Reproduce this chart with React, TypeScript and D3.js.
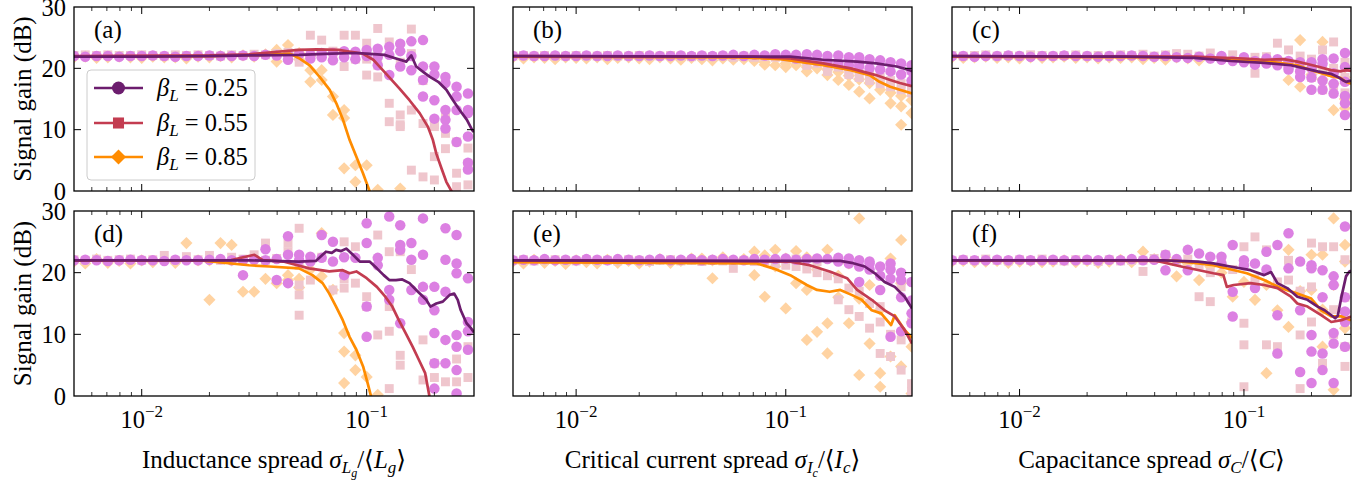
import * as d3 from 'd3';

// sample positions of the spread (sigma / mean), shared by all panels
const grid = [
  0.005, 0.00561, 0.0063, 0.00707, 0.00794, 0.00891, 0.01, 0.0112, 0.0126, 0.0141,
  0.0158, 0.0178, 0.02, 0.0224, 0.0251, 0.0282, 0.0316, 0.0355, 0.0398, 0.0447,
  0.0501, 0.0562, 0.0631, 0.0708, 0.0794, 0.0891, 0.1, 0.112, 0.126, 0.141,
  0.158, 0.178, 0.2, 0.224, 0.251, 0.282, 0.316, 0.355, 0.398,
];

const betaLabels = ['0.25', '0.55', '0.85'];
const yTicks = [0, 10, 20, 30];
const xMajor = [0.01, 0.1];
const xMinor = [0.006, 0.007, 0.008, 0.009, 0.02, 0.03, 0.04, 0.05, 0.06, 0.07, 0.08, 0.09, 0.2, 0.3, 0.4];

// ---- (a) inductance ----
const a025 = [[22],[21.9],[22],[22],[21.9],[22],[22],[22.1],[22],[21.9],[22],[22],[22.1],[22],[22],[22.1],[22],[22.2],[22.1],[21.4,22.2],[22.3],[22.2,21.6],[22.5,21.8],[21.3,22.5],[21.8,22.8],[22.7,21.5],[23,22],[23.2,21.8,20.5],[23.5,22.2,18.9],[24,20.3,22.8],[24.4,19.7,22],[24.6,18.1,15.4,20.3],[20.3,14.8,11.8,19],[18.6,17.6,11.6,10.2,13.2],[15.4,13.2,8,17],[15.9,12.7,8.9,4.6,3.5,13.2]];
const a055 = [[22.1],[22.2],[22.1],[22.2],[22.1],[22.1],[22.2],[22.1],[22],[22.2],[22.1],[22.2],[22.1],[22],[22.2],[22.1],[22.3],[22.2],[22.4],[22.6],[22.5,21],[25.4,22.3],[24.6,22],[22.8,21.5],[20.3,25.4,22.5],[25.4,21.5],[24.1,18.9,21.5],[26.5,22.5,20.5,18.6],[24.3,14.3,11.3],[10.5,12.4,21,10.8],[26.4,22.4,13.2,3.4],[11,2.3,18],[10.8,10.5,5.6,1.8],[9.4,6.9,12],[8,2.9,0.7],[4.5,1,7]];
const a085 = [[21.8],[21.9],[21.7],[21.8],[21.9],[21.8],[21.7],[21.9],[21.8],[21.8],[21.6],[21.9],[21.8],[22],[21.8],[22.1],[21.9],[22.3],[21.1,23],[23.8,22.4],[22.5,21.5],[17.8,19.7,22],[19.7,18.1],[15.4,12.4],[13.2,11.9,3.7],[1.5,4.2],[4.2],[0.2],[],[0.4]];
const aLine025 = [[0.005,21.9],[0.01,21.9],[0.02,22],[0.03,22.1],[0.05,22.2],[0.07,22.4],[0.09,22.5],[0.1,22.4],[0.12,22.2],[0.135,21.6],[0.15,21.1],[0.158,22.1],[0.166,20.3],[0.18,19.3],[0.191,18.6],[0.208,17.8],[0.226,16.5],[0.242,14.8],[0.259,13.2],[0.279,11.6],[0.295,9.9],[0.3,9.6]];
const aLine055 = [[0.005,22],[0.02,22.1],[0.03,22.3],[0.04,22.7],[0.05,23],[0.06,23.1],[0.075,23],[0.085,22.7],[0.096,22.4],[0.107,21.4],[0.116,20],[0.127,18.4],[0.14,16.7],[0.155,14.8],[0.172,12.7],[0.187,10.5],[0.197,8.3],[0.204,6.1],[0.215,3.7],[0.226,1.5],[0.238,0],[0.245,-1]];
const aLine085 = [[0.005,21.9],[0.02,22],[0.035,22.2],[0.0455,22.4],[0.0504,21.6],[0.0558,20.5],[0.0618,18.6],[0.0685,16.5],[0.0733,14.3],[0.0785,11.6],[0.084,8.3],[0.09,5.6],[0.0963,2.9],[0.103,0],[0.106,-1]];

// ---- (b) critical current ----
const b025 = [[22],[22.1],[22],[22],[22.1],[22],[22],[22.1],[22],[22],[22.1],[22],[22],[22.1],[22],[22],[22.1],[22],[22.1],[22],[22.1],[22.2],[22],[22.2],[22.1],[22.3],[22.2],[22.2,21.6],[22.3,21.5],[22.2,21.2],[22,21],[22.1,20.8],[21.8,20.5],[21.8,20.4,21],[21.5,20],[21.3,19.8],[21,19.5],[20.8,19],[20.5,18,19.5]];
const b055 = [[22],[22.1],[22],[22.1],[22],[22],[22.1],[22],[22],[22.1],[22],[22],[22.1],[22],[22],[22.1],[22],[21.9],[22],[21.9],[22],[21.8],[22],[21.8],[21.9],[21.8],[21.8],[21.5],[21.2,20.5],[20.8],[20.8,19.5],[20.2],[19.8,19],[19.5,18.5],[19,18],[18.5,17.5],[18,17],[17.5,16.5],[17,16]];
const b085 = [[21.8],[21.6],[21.8],[21.7],[21.5],[21.8],[21.7],[21.6],[21.8],[21.5],[21.7],[21.8],[21.6],[21.5],[21.8],[21.6],[21.4],[21.7],[21.5],[21.3],[21.6],[21.4],[21.5],[21.2],[21,20.6],[20.5],[20.8,20.2],[20.5],[20.2,19.5],[20],[18.9,19.8],[18.1,19.4],[17.3,18.8],[16.2,18.2],[15.1,17.6],[16.5],[14.3,16],[13.8,10.8,15.5],[12.7,14.8]];
const bLine025 = [[0.005,22],[0.105,21.9],[0.151,21.4],[0.219,21.1],[0.27,20.8],[0.338,20.3],[0.39,19.7],[0.4,19.5]];
const bLine055 = [[0.005,22],[0.07,21.9],[0.105,21.6],[0.151,20.8],[0.204,20],[0.269,18.9],[0.315,18.1],[0.35,17.6],[0.4,17.1]];
const bLine085 = [[0.005,21.9],[0.06,21.8],[0.094,21.5],[0.151,20.5],[0.204,19.7],[0.251,18.9],[0.28,17.8],[0.315,17],[0.35,16.5],[0.4,15.9]];

// ---- (c) capacitance ----
const c025 = [[22],[22],[21.9],[22],[22],[22.1],[22],[21.9],[22],[22],[22.1],[22],[22],[21.9],[22],[22],[22.1],[22],[21.9],[22],[21.8],[21.7],[21.9],[21.6],[21.4,22],[21.2],[21,21.8],[21.2,20.6],[20.8,21.6],[20.5,21.5],[20.3,21.2,19.8],[19.5,21,18.6],[18.5,21,16.5,20],[16.5,20.8,18,21.5],[15.9,21.6,17.5,19.2],[12.4,14.3,22.5,20.2,17.8,15.5]];
const c055 = [[22.1],[22],[22.1],[22.2],[22],[22.1],[22],[22.2],[22.1],[22],[22.1],[22.2],[22],[22.1],[22],[22.2],[22.1],[22.3],[22],[22.2],[22.4],[22.3],[22],[22.5],[21.6],[22.2],[21.5],[19.2,21.8],[21.9],[24.1,21.2],[21,23],[20.4,22],[21.5,18.5],[19.8,16.5,23],[24.3,17.2,20],[16,21,18.5]];
const c085 = [[21.8],[21.7],[21.8],[21.9],[21.7],[21.8],[21.6],[21.8],[21.7],[21.8],[21.9],[21.7],[21.8],[21.6],[21.8],[21.7],[21.8],[21.5],[21.7],[21.4],[21.8],[21.6],[21.3],[21.7],[21.5],[21.4],[21.2],[20.8],[21.5],[20.8],[18.1,21],[24.6,17,20.5],[20,19],[24.3,18.2],[13.2,17.5,19.5],[15,18.5,13.5]];
const cLine025 = [[0.005,22],[0.03,21.9],[0.06,21.7],[0.0874,21.2],[0.123,20.9],[0.162,20.5],[0.186,20],[0.213,19.5],[0.244,19.1],[0.262,18.6],[0.275,18.1],[0.285,17.8],[0.3,18]];
const cLine055 = [[0.005,22],[0.06,21.9],[0.1,21.6],[0.123,21.4],[0.15,21.5],[0.173,21.1],[0.213,20.3],[0.244,19.7],[0.27,19.5],[0.285,19.7],[0.3,19.6]];
const cLine085 = [[0.005,21.9],[0.06,21.8],[0.123,21.2],[0.173,20.5],[0.2,19.7],[0.235,18.9],[0.27,18.4],[0.285,17.8],[0.3,17.5]];

// ---- (d) inductance, second configuration ----
const d025 = [[22],[22.1],[22],[21.9],[22],[22.1],[22],[22],[21.9],[22.1],[22],[22],[22.1],[22.2],[22],[19.6,22],[22.1],[23.8,22],[18.8,22.2],[25.9,18.3,22.9],[22.9,22],[22.6,21.8],[26.1,22.4],[25,21.8],[19.6,22.5],[22.4],[24.8,28,14.5,9.6],[21.2,22.4],[29.1,17.2,15.6],[27.7,24.5,23.7,11.8],[22.1,17.2,24.8],[28.8,15.6,17.7,22.9],[13.9,10.2,5.3,17.7,1.2],[27.2,22.1,16.9,9.1,5.3],[26.1,21.5,19.9,0.4,9.9,8,4.2],[19.1,7.5,12,10.5]];
const d055 = [[22.1],[22],[22.2],[22],[22.1],[22.2],[22],[22.1],[22.8],[22],[22.6],[22.1],[22.8],[22],[22.5],[22.2],[22.9],[24.8,22],[22.3],[24.8,23.4],[27.2,21.2,18,13.1,16.4],[18.8],[22.5],[17.2],[17.5,25,19],[24.2,18.3],[16.1,14.5],[26.1,9.9],[23.4,10.5,1.2,14.5],[6.6,5,23.4],[20.5],[9.1,2.6],[5.3,3],[2.3],[2.3,6],[8,3]];
const d085 = [[21.8],[21.5],[22.2],[21.6],[21.9],[21.5],[22],[21.7],[22.1],[21.6],[24.8],[22],[15.6,22],[24.8],[24.5,22],[16.9],[16.9,22],[19],[18.3],[19.6,18.8],[17.6,19],[20.5],[26.4,19.4],[17.2],[10.2,7.2,2.1],[6.6,4.2],[3.1],[0.2]];
const dLine025 = [[0.005,22],[0.03,22],[0.05,21.8],[0.0594,21.9],[0.0659,23.4],[0.07,23.2],[0.0731,23.7],[0.077,23.5],[0.0811,23.9],[0.0869,22.9],[0.0931,21.8],[0.103,21.8],[0.111,20.7],[0.119,19.6],[0.126,18.8],[0.135,18.8],[0.144,18.9],[0.155,18.3],[0.166,17.2],[0.184,15.6],[0.192,14.5],[0.204,15],[0.218,15.3],[0.234,16.4],[0.245,16.6],[0.254,15.6],[0.262,13.9],[0.278,11.8],[0.291,11],[0.3,10.3]];
const dLine055 = [[0.005,22],[0.025,22.05],[0.0317,22.9],[0.0345,22.05],[0.0426,21.8],[0.0555,20.7],[0.0682,20.2],[0.0783,20.4],[0.0839,19.9],[0.09,20.2],[0.1,19.1],[0.111,17.7],[0.121,16.1],[0.13,14.5],[0.139,12.3],[0.149,10.2],[0.16,8],[0.171,5.8],[0.182,3.7],[0.19,0],[0.195,-1]];
const dLine085 = [[0.005,22],[0.0182,22],[0.03,21.2],[0.037,21],[0.05,20.7],[0.0574,19.6],[0.0637,18.3],[0.0682,16.6],[0.0731,14.5],[0.0783,12.3],[0.0839,9.6],[0.09,7.5],[0.0964,4.8],[0.101,2.1],[0.1045,0],[0.107,-1]];

// ---- (e) critical current, second configuration ----
const e025 = [[22],[22.1],[22],[22.2],[22],[22.1],[22],[22.2],[22.1],[22],[22.2],[22.1],[22],[22.1],[22.2],[22],[22.1],[22.2],[22],[22.1],[22.2],[22.1],[22],[22.2],[22.1],[22.2],[22.3],[22.1],[22.2],[22.3],[22.2],[22.4,21.8],[22.3,21.5],[22,18.5,21],[21.8,20.5,21.5],[17.2,21,19.5],[20.5,9.6,19,21.5],[18.8,10.5,20,16],[13.4,11.8,18.5,15.5]];
const e055 = [[22],[22.1],[21.9],[22],[22.1],[22],[21.9],[22.1],[22],[22],[21.9],[22.1],[22],[21.8],[22],[22.1],[21.9],[22],[21.8],[22],[21.9],[20.7],[22],[21.8],[21.9],[21.5],[21.2],[21,22.2],[20.6],[20,21.8],[19.5],[15.6,19],[17.5,14],[12.9,17],[11,15],[6.9,12,14.5],[6.4,10],[9.1,4.2,17.7],[0.7,12,2]];
const e085 = [[21.8],[21.5],[22.1],[21.6],[21.9],[21.4],[22],[21.7],[21.5],[22.1],[21.6],[21.9],[21.5],[21.8],[22.2],[21.6],[21.9],[22.3],[22.3],[19.1,22],[22.5],[21.8],[22.2],[23.4,19.6],[16.1,22.8],[23.7,21],[14.2,22.3],[18.3,23.5],[17.2,9.1,22.5],[10.4,20.5],[23.7,11.8,6.9],[19.5,16],[11.8,21.5],[28.8,15.8,3.4],[8.5,18],[3.7,1.5,14],[6.4,22.3],[25.3,18.3,4.8],[0.4,12,8]];
const eLine025 = [[0.005,22],[0.182,21.9],[0.206,21.6],[0.238,21],[0.266,19.9],[0.296,18.5],[0.331,17.7],[0.369,16.1],[0.4,14.2]];
const eLine055 = [[0.005,22],[0.105,21.8],[0.13,21.2],[0.162,20.2],[0.196,19.1],[0.219,17.2],[0.257,15.6],[0.296,13.9],[0.331,12.9],[0.369,10.7],[0.4,8.5]];
const eLine085 = [[0.005,21.7],[0.0727,21.5],[0.087,20.7],[0.105,19.6],[0.126,18],[0.141,17.2],[0.162,16.9],[0.182,17.2],[0.206,16.4],[0.23,15.6],[0.257,13.9],[0.285,13.4],[0.318,11.5],[0.331,13.1],[0.369,10.7],[0.4,9.4]];

// ---- (f) capacitance, second configuration ----
const f025 = [[22],[22.1],[22],[22],[22.1],[22],[22.1],[22],[22],[22.1],[22],[22],[22.1],[22],[22.1],[22],[22.2],[22],[22.1],[22.9,20.4],[22.2],[20.4,23.7],[23.1],[22.6],[22.6,21.5],[16.9,24.5,12.9],[21.2,22],[17.5,21.5],[23.4,20.5],[24.5,13.1,6.9],[26.4,20.7],[21.8,13.9,3.9],[21.2,20.7,9.9,7.2,2.1],[20.4,6.9,4.2,16],[19.4,18,2.1,8.5,10.2],[27.5,8,13.7,16,12]];
const f055 = [[22],[22.1],[22],[22.2],[22],[21.9],[22.1],[22],[22.2],[22],[21.9],[22.1],[22],[21.8],[22.1],[21.9],[22],[20.2,22],[22.3],[22.9],[21.8],[22.2],[16.1,21.2],[15.3,20],[22.3],[20.5],[24.2,11.8,8.3,1.5],[25.8,19],[23.7,8.3],[8,18.5],[18.8,22],[9.9,1.2,17],[24.8,17.7,12],[24.2,5.3],[24.2,10,14],[22.1,4.8,16,8]];
const f085 = [[21.8],[21.9],[21.7],[21.8],[21.9],[21.6],[21.8],[21.9],[21.7],[21.8],[22],[21.7],[21.9],[21.6],[21.8],[22.1],[21.7],[23.4],[22.2],[22.5],[19.4],[21.5],[18.8],[21],[20],[16.1],[18.5],[15.6],[3.7,18],[13.9],[11.2,23.7],[17],[22.9,17.2],[22.9,8,14],[28.8,1,18],[21.8,24.5,11]];
const fLine025 = [[0.005,22],[0.044,22],[0.0624,21.8],[0.0731,21.5],[0.0869,21],[0.107,20.4],[0.123,19.6],[0.132,20.1],[0.141,18.3],[0.156,17.5],[0.173,16.1],[0.192,15.6],[0.213,14.5],[0.229,13.9],[0.245,13.1],[0.255,12.6],[0.262,13],[0.272,16.1],[0.285,19.4],[0.295,20.2],[0.3,20.3]];
const fLine055 = [[0.005,22],[0.04,22],[0.0525,21],[0.0731,19.9],[0.081,19.6],[0.0839,17.7],[0.09,18],[0.107,18.3],[0.123,18],[0.141,17.5],[0.162,16.1],[0.173,15],[0.192,14.5],[0.221,13.1],[0.245,12],[0.272,12.3],[0.3,12.9]];
const fLine085 = [[0.005,22],[0.05,21.9],[0.0731,21.2],[0.103,19.9],[0.123,18.8],[0.146,17.5],[0.173,16.6],[0.1995,15.8],[0.221,13.9],[0.245,12.9],[0.272,12.9],[0.3,12.3]];

const lineColors = ['#6c1d6e', '#c33c50', '#ff8c00'];
const dotColors = ['#dc80e2', '#efc6cd', '#ffd3a2'];
const FONT = '"Liberation Serif", "DejaVu Serif", "Times New Roman", serif';

const cols = [
  { left: 74, right: 474, domain: [0.005, 0.3], kind: 'L' },
  { left: 513, right: 912, domain: [0.005, 0.4], kind: 'I' },
  { left: 952, right: 1351, domain: [0.005, 0.3], kind: 'C' },
];
const rows = [
  { top: 7, bottom: 191 },
  { top: 211, bottom: 396 },
];

const panels = [
  { id: 'a', col: 0, row: 0, dots: [a025, a055, a085], lines: [aLine025, aLine055, aLine085] },
  { id: 'b', col: 1, row: 0, dots: [b025, b055, b085], lines: [bLine025, bLine055, bLine085] },
  { id: 'c', col: 2, row: 0, dots: [c025, c055, c085], lines: [cLine025, cLine055, cLine085] },
  { id: 'd', col: 0, row: 1, dots: [d025, d055, d085], lines: [dLine025, dLine055, dLine085] },
  { id: 'e', col: 1, row: 1, dots: [e025, e055, e085], lines: [eLine025, eLine055, eLine085] },
  { id: 'f', col: 2, row: 1, dots: [f025, f055, f085], lines: [fLine025, fLine055, fLine085] },
];

const Marker = ({ kind, x, y, size, fill }) => {
  if (kind === 0) return <circle cx={x} cy={y} r={size * 0.5} fill={fill} />;
  if (kind === 1) {
    const s = size * 0.85;
    return <rect x={x - s / 2} y={y - s / 2} width={s} height={s} fill={fill} />;
  }
  const h = size * 0.58;
  return <path d={`M${x},${y - h}L${x + h},${y}L${x},${y + h}L${x - h},${y}Z`} fill={fill} />;
};

const XTitle = ({ kind, x, y }) => {
  const sub = 17;
  if (kind === 'C') {
    return (
      <text x={x} y={y} textAnchor="middle" fontSize={25} fontFamily={FONT}>
        Capacitance spread <tspan fontStyle="italic">σ</tspan>
        <tspan fontStyle="italic" fontSize={sub} dy={5}>C</tspan>
        <tspan dy={-5}>/⟨</tspan>
        <tspan fontStyle="italic">C</tspan>
        <tspan>⟩</tspan>
      </text>
    );
  }
  const label = kind === 'L' ? 'Inductance spread ' : 'Critical current spread ';
  const big = kind === 'L' ? 'L' : 'I';
  const small = kind === 'L' ? 'g' : 'c';
  return (
    <text x={x} y={y} textAnchor="middle" fontSize={25} fontFamily={FONT}>
      {label}
      <tspan fontStyle="italic">σ</tspan>
      <tspan fontStyle="italic" fontSize={sub} dy={5}>{big}</tspan>
      <tspan fontStyle="italic" fontSize={12} dy={4}>{small}</tspan>
      <tspan dy={-9}>/⟨</tspan>
      <tspan fontStyle="italic">{big}</tspan>
      <tspan fontStyle="italic" fontSize={sub} dy={5}>{small}</tspan>
      <tspan dy={-5}>⟩</tspan>
    </text>
  );
};

const Panel = ({ p }) => {
  const c = cols[p.col];
  const r = rows[p.row];
  const x = d3.scaleLog().domain(c.domain).range([c.left, c.right]);
  const y = d3.scaleLinear().domain([0, 30]).range([r.bottom, r.top]);
  const line = d3.line().x((d) => x(d[0])).y((d) => y(d[1]));
  const inDomain = (v) => v >= c.domain[0] && v <= c.domain[1] * 1.0001;
  const clipId = `clip-${p.id}`;
  const order = [2, 1, 0];

  return (
    <g>
      <clipPath id={clipId}>
        <rect x={c.left} y={r.top} width={c.right - c.left} height={r.bottom - r.top} />
      </clipPath>
      <g clipPath={`url(#${clipId})`}>
        {order.map((s) =>
          grid.flatMap((gx, i) =>
            !inDomain(gx) ? [] : (p.dots[s][i] || []).map((v, j) => (
              <Marker key={`${s}-${i}-${j}`} kind={s} x={x(gx)} y={y(v)} size={10.5} fill={dotColors[s]} />
            ))
          )
        )}
        {order.map((s) => (
          <path key={s} d={line(p.lines[s])} fill="none" stroke={lineColors[s]} strokeWidth={2.7} strokeLinejoin="round" />
        ))}
      </g>
      {/* ticks, pointing inwards on all four sides */}
      {xMajor.filter(inDomain).map((t) => (
        <g key={`M${t}`} stroke="#000" strokeWidth={1}>
          <line x1={x(t)} x2={x(t)} y1={r.bottom} y2={r.bottom - 7} />
          <line x1={x(t)} x2={x(t)} y1={r.top} y2={r.top + 7} />
        </g>
      ))}
      {xMinor.filter((t) => t < c.domain[1] * 0.999).map((t) => (
        <g key={`m${t}`} stroke="#000" strokeWidth={0.8}>
          <line x1={x(t)} x2={x(t)} y1={r.bottom} y2={r.bottom - 4} />
          <line x1={x(t)} x2={x(t)} y1={r.top} y2={r.top + 4} />
        </g>
      ))}
      {[10, 20].map((t) => (
        <g key={`y${t}`} stroke="#000" strokeWidth={1}>
          <line x1={c.left} x2={c.left + 7} y1={y(t)} y2={y(t)} />
          <line x1={c.right} x2={c.right - 7} y1={y(t)} y2={y(t)} />
        </g>
      ))}
      <rect x={c.left} y={r.top} width={c.right - c.left} height={r.bottom - r.top} fill="none" stroke="#000" strokeWidth={1.3} />
      <text x={c.left + 20} y={r.top + 31} fontSize={25} fontFamily={FONT}>({p.id})</text>

      {p.col === 0 && yTicks.map((t) => (
        <text key={`yl${t}`} x={c.left - 8} y={y(t)} textAnchor="end" dominantBaseline="central" fontSize={24.5} fontFamily={FONT}>{t}</text>
      ))}
      {p.col === 0 && (
        <text transform={`translate(22,${(r.top + r.bottom) / 2}) rotate(-90)`} textAnchor="middle" dominantBaseline="central" fontSize={25} fontFamily={FONT}>
          Signal gain (dB)
        </text>
      )}
      {p.row === 1 && xMajor.map((t) => (
        <text key={`xl${t}`} x={x(t)} y={428} textAnchor="middle" fontSize={24.5} fontFamily={FONT}>
          10<tspan fontSize={17} dy={-11}>−{Math.round(-Math.log10(t))}</tspan>
        </text>
      ))}
      {p.row === 1 && <XTitle kind={c.kind} x={(c.left + c.right) / 2} y={468} />}
    </g>
  );
};

const Legend = () => {
  const ys = [88, 123, 157];
  return (
    <g>
      <rect x={87} y={70} width={168} height={110} rx={4} fill="#fff" fillOpacity={0.85} stroke="#cccccc" strokeWidth={1} />
      {betaLabels.map((b, i) => (
        <g key={b}>
          <line x1={94} x2={143} y1={ys[i]} y2={ys[i]} stroke={lineColors[i]} strokeWidth={2.7} />
          <Marker kind={i} x={118.5} y={ys[i]} size={13} fill={lineColors[i]} />
          <text x={157} y={ys[i] + 8} fontSize={24.5} fontFamily={FONT}>
            <tspan fontStyle="italic">β</tspan>
            <tspan fontStyle="italic" fontSize={17} dy={5}>L</tspan>
            <tspan dy={-5}> = {b}</tspan>
          </text>
        </g>
      ))}
    </g>
  );
};

export default function App() {
  return (
    <svg width={1367} height={482} style={{ position: 'absolute', left: 0, top: 0, background: '#fff' }}>
      {panels.map((p) => (
        <Panel key={p.id} p={p} />
      ))}
      <Legend />
    </svg>
  );
}
